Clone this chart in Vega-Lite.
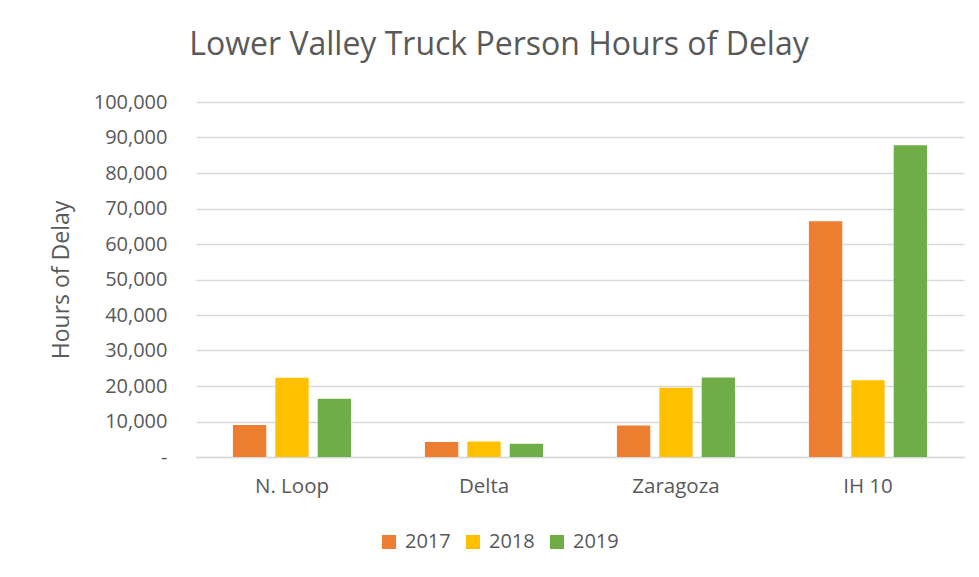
{
  "$schema": "https://vega.github.io/schema/vega-lite/v6.json",
  "width": 768,
  "height": 355,
  "autosize": {"type": "none"},
  "padding": {"left": 196, "top": 102, "right": 15, "bottom": 120},
  "background": "white",
  "title": {
    "text": "Lower Valley Truck Person Hours of Delay",
    "font": "Open Sans",
    "fontSize": 32,
    "fontWeight": "normal",
    "color": "#595959",
    "anchor": "middle",
    "dx": -81,
    "offset": 30
  },
  "data": {
    "values": [
      {"location": "N. Loop", "year": "2017", "hours": 9000},
      {"location": "N. Loop", "year": "2018", "hours": 22300},
      {"location": "N. Loop", "year": "2019", "hours": 16400},
      {"location": "Delta", "year": "2017", "hours": 4200},
      {"location": "Delta", "year": "2018", "hours": 4400},
      {"location": "Delta", "year": "2019", "hours": 3700},
      {"location": "Zaragoza", "year": "2017", "hours": 8850},
      {"location": "Zaragoza", "year": "2018", "hours": 19500},
      {"location": "Zaragoza", "year": "2019", "hours": 22400},
      {"location": "IH 10", "year": "2017", "hours": 66400},
      {"location": "IH 10", "year": "2018", "hours": 21600},
      {"location": "IH 10", "year": "2019", "hours": 87800}
    ]
  },
  "mark": {"type": "bar"},
  "encoding": {
    "x": {
      "field": "location",
      "type": "nominal",
      "sort": ["N. Loop", "Delta", "Zaragoza", "IH 10"],
      "scale": {"paddingInner": 0.385, "paddingOuter": 0.1925},
      "axis": {
        "title": null,
        "labelAngle": 0,
        "labelFont": "Open Sans",
        "labelFontSize": 20.5,
        "labelColor": "#595959",
        "labelPadding": 19,
        "ticks": false,
        "domainColor": "#d9d9d9",
        "domainWidth": 1.5
      }
    },
    "xOffset": {
      "field": "year",
      "type": "nominal",
      "scale": {"paddingInner": 0.214, "paddingOuter": 0}
    },
    "y": {
      "field": "hours",
      "type": "quantitative",
      "scale": {"domain": [0, 100000], "nice": false},
      "axis": {
        "title": "Hours of Delay",
        "titleFont": "Open Sans",
        "titleFontSize": 23,
        "titleFontWeight": "normal",
        "titleColor": "#595959",
        "titlePadding": 20,
        "values": [0, 10000, 20000, 30000, 40000, 50000, 60000, 70000, 80000, 90000, 100000],
        "labelExpr": "datum.value == 0 ? '-' : format(datum.value, ',')",
        "labelFont": "Open Sans",
        "labelFontSize": 20,
        "labelColor": "#595959",
        "labelPadding": 29,
        "ticks": false,
        "domain": false,
        "grid": true,
        "gridColor": "#d9d9d9",
        "gridWidth": 1.5
      }
    },
    "color": {
      "field": "year",
      "type": "nominal",
      "scale": {"domain": ["2017", "2018", "2019"], "range": ["#ED7D31", "#FFC000", "#70AD47"]},
      "legend": {
        "title": null,
        "orient": "none",
        "direction": "horizontal",
        "legendX": 183,
        "legendY": 430,
        "symbolType": "square",
        "symbolSize": 196,
        "symbolStrokeWidth": 0,
        "labelFont": "Open Sans",
        "labelFontSize": 20,
        "labelColor": "#595959",
        "labelOffset": 6,
        "columnPadding": 12
      }
    }
  },
  "config": {"view": {"stroke": null}}
}
